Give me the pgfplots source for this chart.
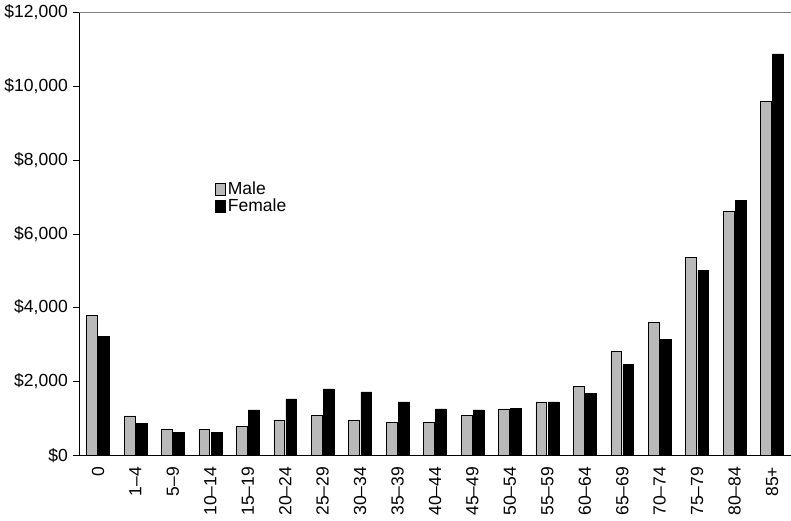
\documentclass[border=0pt]{standalone}
\usepackage{pgfplots}
\pgfplotsset{compat=1.18}
\usepackage{fontspec}
\setmainfont{Liberation Sans}
\begin{document}
\begin{tikzpicture}
\begin{axis}[
  width=528pt, height=329pt, scale only axis,
  ybar=1pt, bar width=8pt,
  xmin=-0.5, xmax=18.5, ymin=0, ymax=12000,
  xtick=data,
  xticklabels={0,1--4,5--9,10--14,15--19,20--24,25--29,30--34,35--39,40--44,45--49,50--54,55--59,60--64,65--69,70--74,75--79,80--84,85+},
  x tick label style={rotate=90, anchor=east},
  ytick={0,2000,4000,6000,8000,10000,12000},
  /pgf/number format/assume math mode=true,
  /pgf/number format/1000 sep={,},
  yticklabel={\$\pgfmathprintnumber{\tick}},
  scaled y ticks=false,
  axis x line*=bottom, axis y line*=left,
  x axis line style={-}, y axis line style={-},
  xtick style={draw=none},
  ytick style={black}, tick align=outside,
  major tick length=5pt,
  extra y ticks={12000}, extra y tick labels={}, extra y tick style={grid=major, major grid style={gray}},
  tick label style={font=\fontsize{13}{15}\selectfont},
  legend style={draw=none, fill=none, at={(0.185,0.63)}, anchor=north west, font=\fontsize{13}{15}\selectfont, row sep=-2pt},
  legend cell align=left,
  legend image code/.code={\draw[#1] (0pt,-4.5pt) rectangle (7pt,4.5pt);},
]
\addplot[draw=black, fill=gray!55, line width=0.4pt] coordinates {
(0,3800)(1,1070)(2,710)(3,710)(4,790)(5,960)(6,1090)(7,960)(8,900)(9,900)(10,1090)(11,1260)(12,1450)(13,1860)(14,2810)(15,3610)(16,5360)(17,6610)(18,9590)};
\addplot[draw=black, fill=black] coordinates {
(0,3220)(1,870)(2,630)(3,630)(4,1230)(5,1530)(6,1800)(7,1720)(8,1450)(9,1260)(10,1230)(11,1280)(12,1450)(13,1670)(14,2460)(15,3140)(16,5000)(17,6910)(18,10870)};
\legend{Male,Female}
\end{axis}
\end{tikzpicture}
\end{document}
